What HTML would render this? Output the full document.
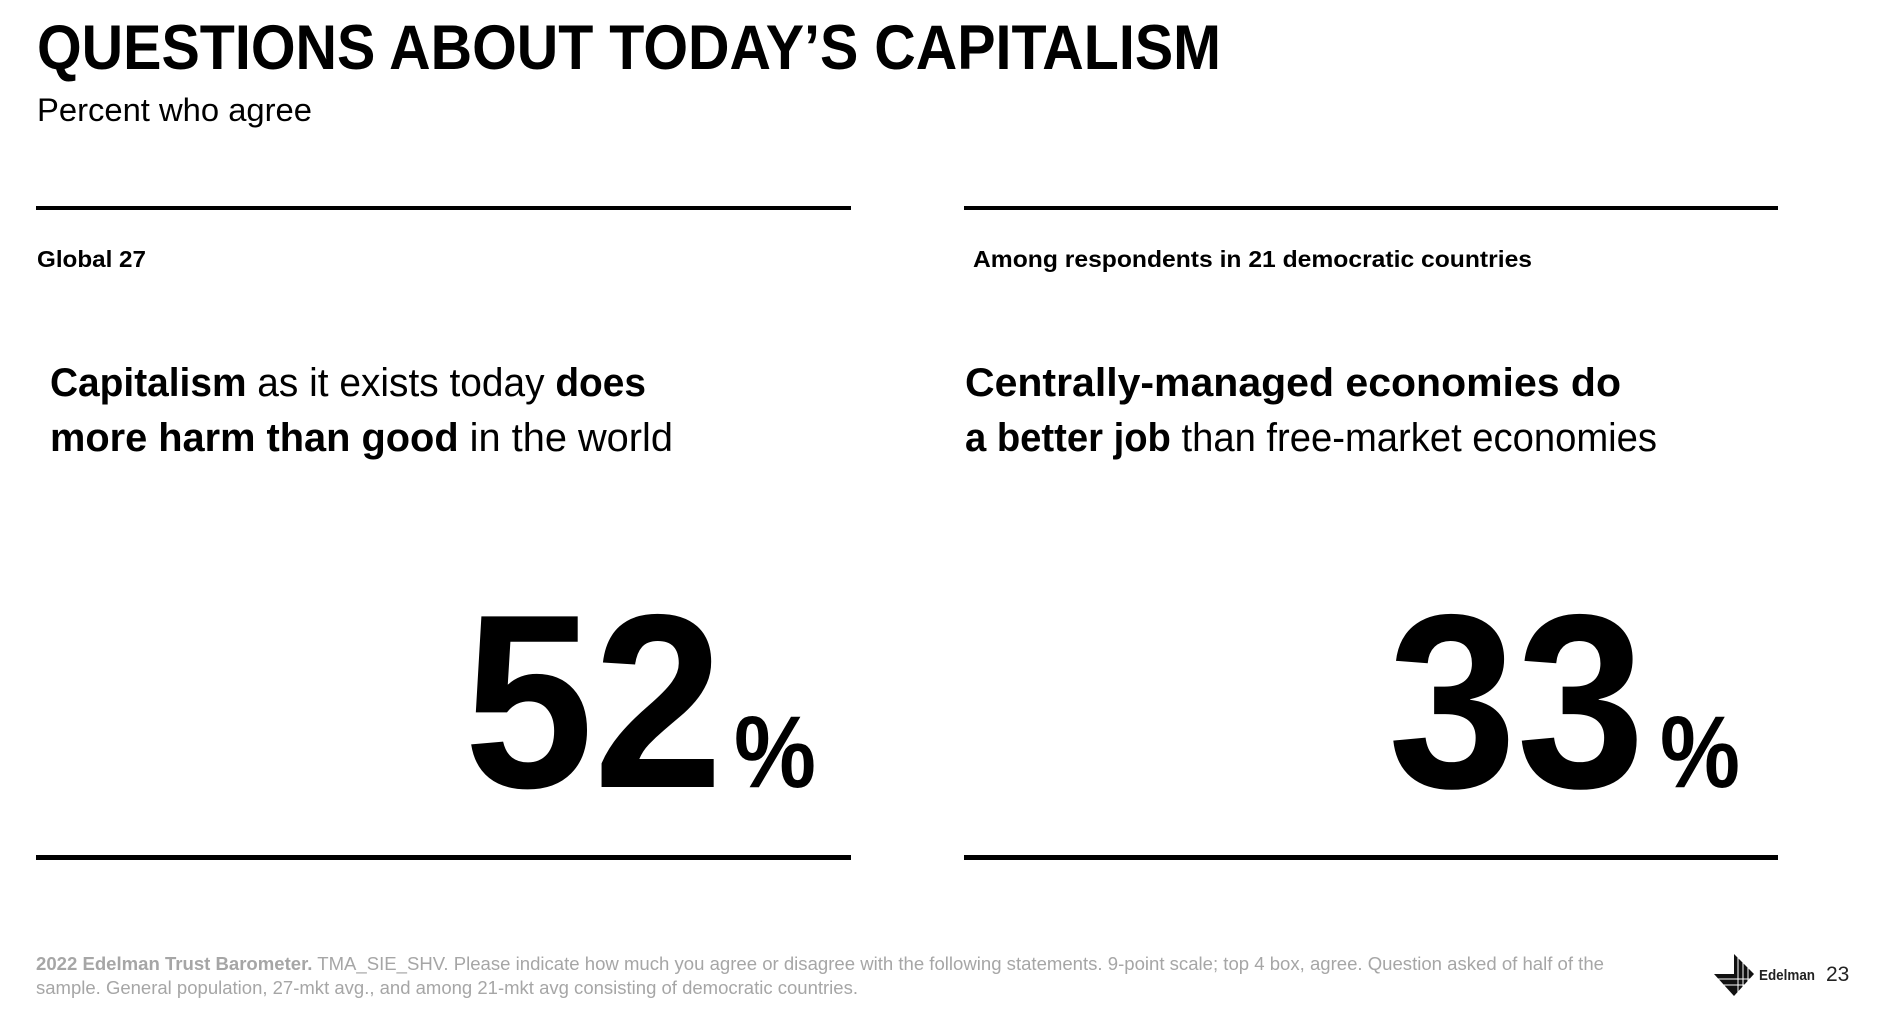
<!DOCTYPE html>
<html><head><meta charset="utf-8"><style>
html,body{margin:0;padding:0;background:#fff;}
svg{display:block;}
text{font-family:"Liberation Sans",Arial,sans-serif;}
</style></head><body>
<svg width="1880" height="1020" viewBox="0 0 1880 1020" xmlns="http://www.w3.org/2000/svg">
<text x="37" y="69" font-size="63" font-weight="bold" textLength="1184" lengthAdjust="spacingAndGlyphs">QUESTIONS ABOUT TODAY’S CAPITALISM</text>
<text x="37" y="121" font-size="32" textLength="275" lengthAdjust="spacingAndGlyphs">Percent who agree</text>
<rect x="36" y="206" width="815" height="4" fill="#000"/>
<rect x="964" y="206" width="814" height="4" fill="#000"/>
<rect x="36" y="855" width="815" height="5" fill="#000"/>
<rect x="964" y="855" width="814" height="5" fill="#000"/>
<text x="37" y="267" font-size="23" font-weight="bold" textLength="109" lengthAdjust="spacingAndGlyphs">Global 27</text>
<text x="973" y="267" font-size="23" font-weight="bold" textLength="559" lengthAdjust="spacingAndGlyphs">Among respondents in 21 democratic countries</text>
<text x="50" y="396" font-size="40" textLength="596" lengthAdjust="spacingAndGlyphs"><tspan font-weight="bold">Capitalism</tspan> as it exists today <tspan font-weight="bold">does</tspan></text>
<text x="50" y="451" font-size="40" textLength="623" lengthAdjust="spacingAndGlyphs"><tspan font-weight="bold">more harm than good</tspan> in the world</text>
<text x="965" y="396" font-size="40" font-weight="bold" textLength="656" lengthAdjust="spacingAndGlyphs">Centrally-managed economies do</text>
<text x="965" y="451" font-size="40" textLength="692" lengthAdjust="spacingAndGlyphs"><tspan font-weight="bold">a better job</tspan> than free-market economies</text>
<text x="464" y="787" font-size="248" font-weight="bold" textLength="259" lengthAdjust="spacingAndGlyphs">52</text>
<text x="734" y="787" font-size="102" font-weight="bold" textLength="82" lengthAdjust="spacingAndGlyphs">%</text>
<text x="1388" y="787" font-size="248" font-weight="bold" textLength="257" lengthAdjust="spacingAndGlyphs">33</text>
<text x="1660" y="787" font-size="102" font-weight="bold" textLength="80" lengthAdjust="spacingAndGlyphs">%</text>
<text x="36" y="970" font-size="18" fill="#a6a6a6" textLength="1568" lengthAdjust="spacingAndGlyphs"><tspan font-weight="bold">2022 Edelman Trust Barometer.</tspan> TMA_SIE_SHV. Please indicate how much you agree or disagree with the following statements. 9-point scale; top 4 box, agree. Question asked of half of the</text>
<text x="36" y="994" font-size="18" fill="#a6a6a6" textLength="822" lengthAdjust="spacingAndGlyphs">sample. General population, 27-mkt avg., and among 21-mkt avg consisting of democratic countries.</text>
<g fill="#111">
<polygon points="1734,954 1734,974 1754,974"/>
<polygon points="1714,974 1754,974 1734,996"/>
</g>
<g stroke="#fff" stroke-width="1">
<line x1="1738" y1="956" x2="1738" y2="995"/><line x1="1743" y1="960" x2="1743" y2="990"/><line x1="1748" y1="966" x2="1748" y2="984"/>
<line x1="1716" y1="979" x2="1752" y2="979"/><line x1="1722" y1="985" x2="1746" y2="985"/>
</g>
<text x="1759" y="980" font-size="15" font-weight="bold" fill="#222" textLength="56" lengthAdjust="spacingAndGlyphs">Edelman</text>
<text x="1826" y="981" font-size="21" fill="#222">23</text>
</svg>
</body></html>
